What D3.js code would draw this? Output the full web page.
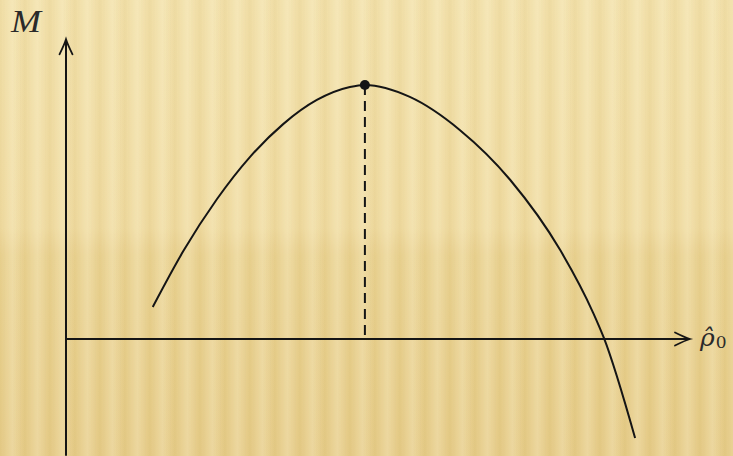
<!DOCTYPE html>
<html>
<head>
<meta charset="utf-8">
<script src="https://cdn.jsdelivr.net/npm/d3@7"></script>
<style>
  html, body { margin: 0; padding: 0; }
  body { width: 733px; height: 456px; overflow: hidden; }
  svg { display: block; }
</style>
</head>
<body>
<svg id="chart" width="733" height="456"></svg>
<script>
// Curve M(rho0): samples along the curve
const rhoValues = [1.39, 1.88, 2.42, 2.95, 3.48, 4.02, 4.55, 4.79, 5.51, 6.31, 7.12, 7.92, 8.45, 8.62, 9.12];
const mValues   = [1.26, 3.46, 5.51, 7.17, 8.46, 9.41, 9.92, 10.0, 9.53, 8.23, 6.26, 3.50, 1.02, 0.04, -3.90];
// Location of the maximum
const peakRho = [4.79];
const peakM = [10.0];
// Axis extents (data units)
const xAxisExtent = [0, 10];
const yAxisExtent = [-4.6, 11.8];
const axisLabels = ["M", "ρ\u0302", "0"];

const W = 733, H = 456;
const svg = d3.select("#chart");
const defs = svg.append("defs");

// Background: warm paper with soft vertical stripes
const bg = defs.append("linearGradient").attr("id", "bgGrad")
  .attr("x1", 0).attr("y1", 0).attr("x2", 0).attr("y2", 1);
[[0, "#f2e1ab"], [0.5, "#efdba1"], [0.56, "#e9d292"], [1, "#e5cb88"]]
  .forEach(([o, c]) => bg.append("stop").attr("offset", o).attr("stop-color", c));

const stripeGrad = defs.append("linearGradient").attr("id", "stripeGrad")
  .attr("x1", 0).attr("y1", 0).attr("x2", 1).attr("y2", 0);
[[0, 0], [0.5, 0.28], [1, 0]].forEach(([o, a]) =>
  stripeGrad.append("stop").attr("offset", o).attr("stop-color", "#fff6d8").attr("stop-opacity", a));

const pat = defs.append("pattern").attr("id", "stripes")
  .attr("patternUnits", "userSpaceOnUse").attr("width", 25).attr("height", H);
pat.append("rect").attr("width", 25).attr("height", H).attr("fill", "url(#stripeGrad)");

const shadeGrad = defs.append("linearGradient").attr("id", "shadeGrad")
  .attr("x1", 0).attr("y1", 0).attr("x2", 1).attr("y2", 0);
[[0, 0], [0.5, 0.09], [1, 0]].forEach(([o, a]) =>
  shadeGrad.append("stop").attr("offset", o).attr("stop-color", "#c9a24a").attr("stop-opacity", a));
const pat2 = defs.append("pattern").attr("id", "stripes2")
  .attr("patternUnits", "userSpaceOnUse").attr("width", 25).attr("height", H)
  .attr("x", 12);
pat2.append("rect").attr("width", 25).attr("height", H).attr("fill", "url(#shadeGrad)");

svg.append("rect").attr("width", W).attr("height", H).attr("fill", "url(#bgGrad)");
svg.append("rect").attr("width", W).attr("height", H).attr("fill", "url(#stripes)");
svg.append("rect").attr("width", W).attr("height", H).attr("fill", "url(#stripes2)");

// Scales
const x = d3.scaleLinear().domain([0, 10]).range([66, 690]);
const y = d3.scaleLinear().domain([0, 10]).range([339, 85]);

const ink = "#151515";

// Axes with arrow heads
const g = svg.append("g");
g.append("line")
  .attr("x1", x(xAxisExtent[0])).attr("x2", x(xAxisExtent[1]) - 1)
  .attr("y1", y(0)).attr("y2", y(0))
  .attr("stroke", ink).attr("stroke-width", 2);
g.append("line")
  .attr("x1", x(0)).attr("x2", x(0))
  .attr("y1", y(yAxisExtent[0])).attr("y2", y(yAxisExtent[1]) + 1)
  .attr("stroke", ink).attr("stroke-width", 2);

function arrowHead(tx, ty, angle) {
  g.append("path")
    .attr("d", "M-15,-6.5 Q-5,-1.5 0,0 Q-5,1.5 -15,6.5")
    .attr("transform", `translate(${tx},${ty}) rotate(${angle})`)
    .attr("fill", "none").attr("stroke", ink)
    .attr("stroke-width", 1.8).attr("stroke-linejoin", "miter").attr("stroke-linecap", "round");
}
arrowHead(x(xAxisExtent[1]), y(0), 0);
arrowHead(x(0), y(yAxisExtent[1]), -90);

// Dashed drop line from the maximum
g.append("line")
  .attr("x1", x(peakRho[0])).attr("x2", x(peakRho[0]))
  .attr("y1", y(peakM[0])).attr("y2", y(0))
  .attr("stroke", ink).attr("stroke-width", 2)
  .attr("stroke-dasharray", "10,6");

// Curve
const pts = rhoValues.map((r, i) => [r, mValues[i]]);
const line = d3.line().x(d => x(d[0])).y(d => y(d[1])).curve(d3.curveMonotoneX);
g.append("path").datum(pts)
  .attr("d", line)
  .attr("fill", "none").attr("stroke", ink).attr("stroke-width", 2);

// Peak marker
g.append("circle")
  .attr("cx", x(peakRho[0])).attr("cy", y(peakM[0])).attr("r", 5)
  .attr("fill", ink);

// Labels
svg.append("text")
  .attr("x", 11).attr("y", 32)
  .attr("font-family", "'Liberation Serif', 'DejaVu Serif', serif")
  .attr("font-style", "italic").attr("font-size", 31)
  .attr("textLength", 30).attr("lengthAdjust", "spacingAndGlyphs")
  .attr("fill", "#2a2a2a")
  .text(axisLabels[0]);

const xl = svg.append("text")
  .attr("x", 700).attr("y", 346)
  .attr("font-family", "'DejaVu Serif', 'Liberation Serif', serif")
  .attr("fill", "#2a2a2a");
xl.append("tspan").attr("font-style", "italic").attr("font-size", 25).text(axisLabels[1]);
xl.append("tspan").attr("font-size", 17).attr("dx", 1).attr("dy", 2).text(axisLabels[2]);
</script>
</body>
</html>
